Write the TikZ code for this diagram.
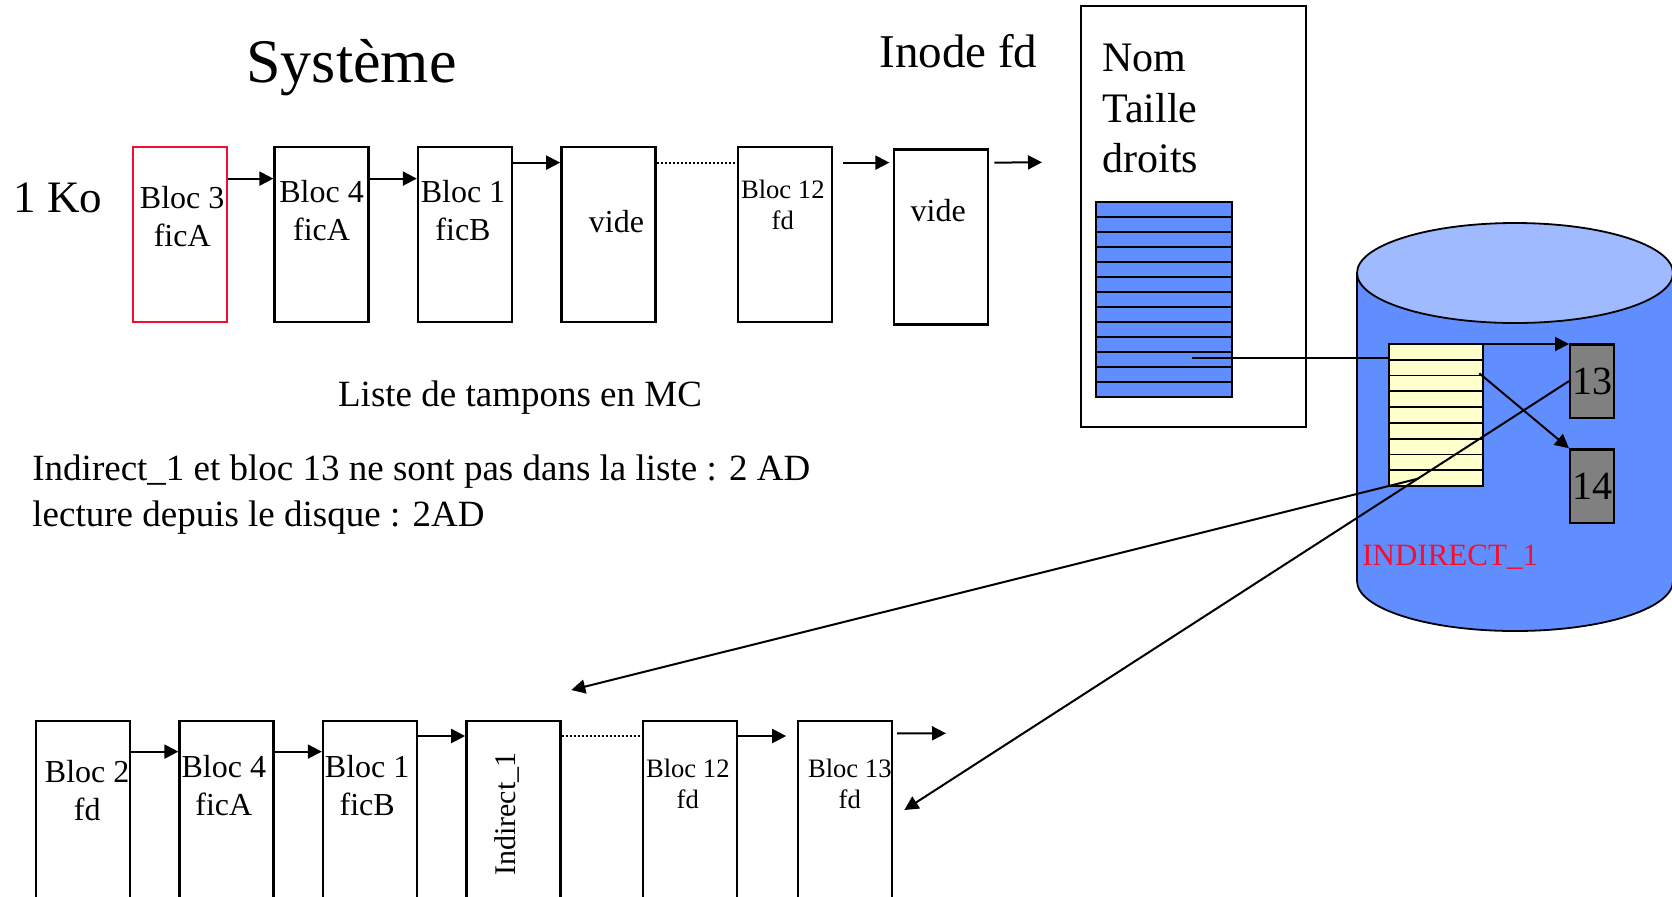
\documentclass[tikz,border=0pt]{standalone}
\usepackage{fontspec}
\setmainfont{Liberation Serif}
\usetikzlibrary{arrows.meta,positioning,calc}
\definecolor{bleu}{RGB}{97,142,255}
\definecolor{bleuclair}{RGB}{160,186,255}
\definecolor{jaune}{RGB}{255,255,204}
\definecolor{gris}{RGB}{128,128,128}
\definecolor{rouge}{RGB}{245,15,45}

\begin{document}
\begin{tikzpicture}[x=0.5pt, y=-0.5pt,
bloc/.style={draw, line width=1.2pt, minimum width=47pt, minimum height=87.5pt, inner sep=0pt},
blocbas/.style={bloc, minimum height=100pt},
lbl/.style={align=center, inner sep=0pt, font=\fontsize{16}{19}\selectfont},
petit/.style={align=center, inner sep=0pt, font=\fontsize{13.3}{15.5}\selectfont},
texte/.style={inner sep=0pt, font=\fontsize{18.5}{23}\selectfont},
tableau/.style={draw, line width=0.9pt, inner sep=0pt, outer sep=0pt, anchor=north west},
casegris/.style={draw, fill=gris, line width=1.2pt, minimum width=21.8pt, minimum height=36.6pt, inner sep=0pt, anchor=north west, font=\fontsize{20}{24}\selectfont},
seta/.style={-{Triangle[length=7pt,width=7pt]}, line width=1pt},
pointille/.style={line width=1pt, dash pattern=on 1pt off 1pt},
rayure/.style={line width=0.9pt},
node distance=23.5pt
]
\useasboundingbox (0,0) rectangle (1672,896);
\clip (0,0) rectangle (1672,896);

% titres
\node[anchor=base, inner sep=0pt, font=\fontsize{31}{37}\selectfont] (titre) at (351.5,82) {Système};
\node[anchor=base, inner sep=0pt, font=\fontsize{23.5}{28}\selectfont] (inodefd) at (958.5,67) {Inode fd};
\node[anchor=base, inner sep=0pt, font=\fontsize{22.5}{27}\selectfont] (ko) at (57.7,212) {1 Ko};

% liste de tampons (haut)
\node[bloc, draw=rouge, anchor=north west] (b3) at (132,146) {};
\node[bloc, right=22.5pt of b3] (b4) {};
\node[bloc, right=of b4] (b1) {};
\node[bloc, right=of b1] (v1) {};
\node[bloc, right=40pt of v1] (b12) {};
\node[bloc, right=30pt of b12, yshift=-1.2pt] (v2) {};
\node[lbl] (t3) at ([xshift=1pt,yshift=-35.5pt]b3.north) {Bloc 3\\ficA};
\node[lbl] (t4) at ([yshift=-32.5pt]b4.north) {Bloc 4\\ficA};
\node[lbl] (t1) at ([xshift=-1pt,yshift=-32.5pt]b1.north) {Bloc 1\\ficB};
\node[lbl] (tv1) at ([xshift=4pt,yshift=-38pt]v1.north) {vide};
\node[petit] (t12) at ([xshift=-1pt,yshift=-29.3pt]b12.north) {Bloc 12\\fd};
\node[lbl] (tv2) at ([xshift=-1.5pt,yshift=-31pt]v2.north) {vide};
\coordinate (versinode) at (1042,162.3);
\draw[seta] ([yshift=-16.3pt]b3.north east) -- ([yshift=-16.3pt]b4.north west);
\draw[seta] ([yshift=-16.3pt]b4.north east) -- ([yshift=-16.3pt]b1.north west);
\draw[seta] ([yshift=-8.3pt]b1.north east) -- ([yshift=-8.3pt]v1.north west);
\draw[pointille] ([yshift=-8.3pt]v1.north east) -- ([yshift=-8.3pt]b12.north west);
\draw[seta] ([xshift=5pt,yshift=-8.3pt]b12.north east) -- ([xshift=-1.8pt,yshift=-7.1pt]v2.north west);
\draw[seta] ([xshift=2.5pt,yshift=-7.1pt]v2.north east) -- (versinode);

\node[texte, anchor=base] (liste) at (520,406) {Liste de tampons en MC};
\node[texte, anchor=west, align=left] (note) at (32,494.4) {Indirect\_1 et bloc 13 ne sont pas dans la liste : 2 AD\\lecture depuis le disque : 2AD};

% inode
\node[draw, line width=1pt, minimum width=112.7pt, minimum height=210.6pt, inner sep=0pt, anchor=north west] (inode) at (1080,5) {};
\node[anchor=west, align=left, inner sep=0pt, font=\fontsize{21}{25.25}\selectfont] (attributs) at (1102,108.6) {Nom\\Taille\\droits};
\node[tableau, fill=bleu, minimum width=68pt, minimum height=97.3pt] (tabbleu) at (1096,202) {};
\foreach \k in {1,...,12}
  \draw[rayure] ($(tabbleu.north west)!\k/13!(tabbleu.south west)$) -- ($(tabbleu.north east)!\k/13!(tabbleu.south east)$);

% disque
\draw[line width=0.9pt, fill=bleu] (1357,273) -- (1357,581) arc[start angle=180, end angle=0, x radius=158, y radius=50] -- (1673,273) -- cycle;
\draw[line width=0.9pt, fill=bleuclair] (1515,273) ellipse[x radius=158, y radius=50];
\node[tableau, fill=jaune, minimum width=47pt, minimum height=71pt] (ind) at (1389,344) {};
\foreach \k in {1,...,8}
  \draw[rayure] ($(ind.north west)!\k/9!(ind.south west)$) -- ($(ind.north east)!\k/9!(ind.south east)$);
\node[casegris] (n13) at (1569,343.3) {13};
\node[casegris] (n14) at (1569,448.3) {14};
\node[anchor=base west, inner sep=0pt, text=rouge, font=\fontsize{15.5}{18}\selectfont] (nomind) at (1362,565) {INDIRECT\_1};

% liste de tampons (bas)
\node[blocbas, anchor=north west] (c2) at (35,720) {};
\node[blocbas, right=of c2] (c4) {};
\node[blocbas, right=of c4] (c1) {};
\node[blocbas, right=of c1] (ci) {};
\node[blocbas, right=40pt of ci] (c12) {};
\node[blocbas, right=29.5pt of c12] (c13) {};
\node[lbl] (u2) at ([xshift=2pt,yshift=-35.5pt]c2.north) {Bloc 2\\fd};
\node[lbl] (u4) at ([xshift=-1.4pt,yshift=-33pt]c4.north) {Bloc 4\\ficA};
\node[lbl] (u1) at ([xshift=-1.4pt,yshift=-33pt]c1.north) {Bloc 1\\ficB};
\node[lbl, rotate=90, font=\fontsize{15}{18}\selectfont] (ui) at ([xshift=-3pt,yshift=-47pt]ci.north) {Indirect\_1};
\node[petit] (u12) at ([xshift=-1pt,yshift=-31.8pt]c12.north) {Bloc 12\\fd};
\node[petit] (u13) at ([xshift=2.3pt,yshift=-31.8pt]c13.north) {Bloc 13\\fd};
\coordinate (finbas) at (946,733.3);
\draw[seta] ([yshift=-15.8pt]c2.north east) -- ([yshift=-15.8pt]c4.north west);
\draw[seta] ([yshift=-15.8pt]c4.north east) -- ([yshift=-15.8pt]c1.north west);
\draw[seta] ([yshift=-8pt]c1.north east) -- ([yshift=-8pt]ci.north west);
\draw[pointille] ([yshift=-8pt]ci.north east) -- ([yshift=-8pt]c12.north west);
\draw[seta] ([yshift=-8pt]c12.north east) -- ([xshift=-5.4pt,yshift=-8pt]c13.north west);
\draw[seta] ([xshift=1.8pt,yshift=-6.7pt]c13.north east) -- (finbas);

% pointeurs
\coordinate (entree) at (1192,358.3);
\coordinate (case2) at ($(ind.north east)+(-3.7,29.3)$);
\coordinate (dernier) at ($(ind.south west)+(29.3,-7.4)$);
\coordinate (pointe13) at ($(c13.north east)+(11,90)$);
\coordinate (pointeind) at ($(ci.north east)+(9.7,-30)$);
\draw[line width=1pt] (entree) -- (entree -| ind.west);
\draw[seta] (ind.north east) -- (ind.north east -| n13.west);
\draw[seta] (case2) -- (n14.north west);
\draw[seta] (n13.west) -- (pointe13);
\draw[seta] (dernier) -- (pointeind);
\end{tikzpicture}
\end{document}
